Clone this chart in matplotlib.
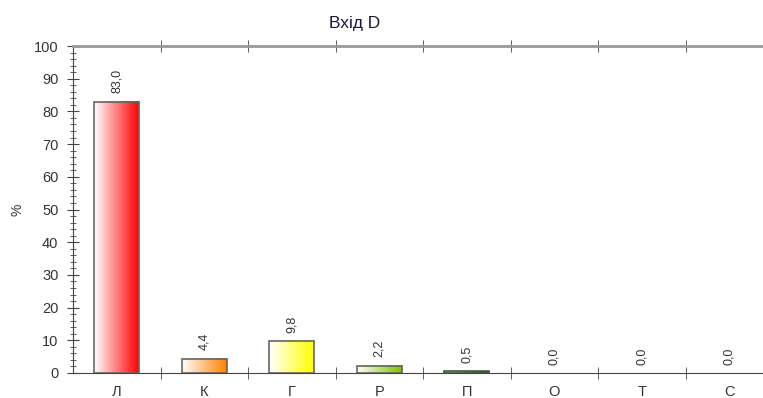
import matplotlib.pyplot as plt
import numpy as np
from matplotlib.colors import LinearSegmentedColormap

categories = ['Л', 'К', 'Г', 'Р', 'П', 'О', 'Т', 'С']
values = [83.0, 4.4, 9.8, 2.2, 0.5, 0.0, 0.0, 0.0]
labels = ['83,0', '4,4', '9,8', '2,2', '0,5', '0,0', '0,0', '0,0']
colors = ['#ff0000', '#ff7f00', '#ffff00', '#7fc000', '#1e5a1e', '#808080', '#808080', '#808080']
title = 'Вхід D'

def main():
    plt.rcParams['font.family'] = ['Liberation Sans', 'DejaVu Sans']
    fig = plt.figure(figsize=(7.63, 3.98), dpi=100)
    ax = fig.add_axes([73/763, 1-373/398, 700/763, 327/398])
    x = np.arange(len(categories))
    bars = ax.bar(x, values, width=0.51, facecolor='none', edgecolor='#666666', linewidth=1.2, zorder=3)
    grad = np.linspace(0, 1, 256).reshape(1, -1)
    for b, c, v in zip(bars, colors, values):
        if v <= 0: b.set_visible(False); continue
        if v < 1: b.set_edgecolor('#3a5a3a')
        cmap = LinearSegmentedColormap.from_list('g', ['#ffffff', c])
        x0, w, h = b.get_x(), b.get_width(), b.get_height()
        ax.imshow(grad, cmap=cmap, aspect='auto', extent=(x0, x0+w, 0, h), zorder=2)
    for xi, v, lab in zip(x, values, labels):
        ax.annotate(lab, (xi, v), xytext=(0, 6), textcoords='offset points', rotation=90,
                    ha='center', va='bottom', fontsize=9, color='#333333')
    ax.set_xlim(-0.5, len(categories)-0.5); ax.set_ylim(0, 100)
    ax.set_xticks(x); ax.set_xticklabels(categories, fontsize=10.5, color='#333333')
    ax.set_xticks(np.arange(0.5, len(categories)-0.5, 1), minor=True)
    ax.tick_params(axis='x', which='major', length=0, pad=9)
    ax.tick_params(axis='x', which='minor', length=9, direction='inout', top=True, color='#444444')
    ax.set_yticks(np.arange(0, 101, 10)); ax.set_yticks(np.arange(0, 101, 2), minor=True)
    ax.tick_params(axis='y', which='major', length=9, direction='inout', labelsize=10.5, labelcolor='#333333', color='#444444', pad=6)
    ax.tick_params(axis='y', which='minor', length=5, direction='inout', color='#444444')
    ax.set_ylabel('%', fontsize=10, color='#333333')
    ax.yaxis.set_label_coords(-(73-25)/700, 0.5)
    for s in ['left', 'bottom']: ax.spines[s].set_color('#444444')
    ax.spines['top'].set_color('#999999'); ax.spines['top'].set_linewidth(2)
    ax.spines['right'].set_visible(False)
    ax.set_title(title, fontsize=12.5, color='#1a1a3a', pad=13, x=(355-73)/700)
    fig.savefig('out.png', dpi=100)

if __name__ == '__main__': main()
